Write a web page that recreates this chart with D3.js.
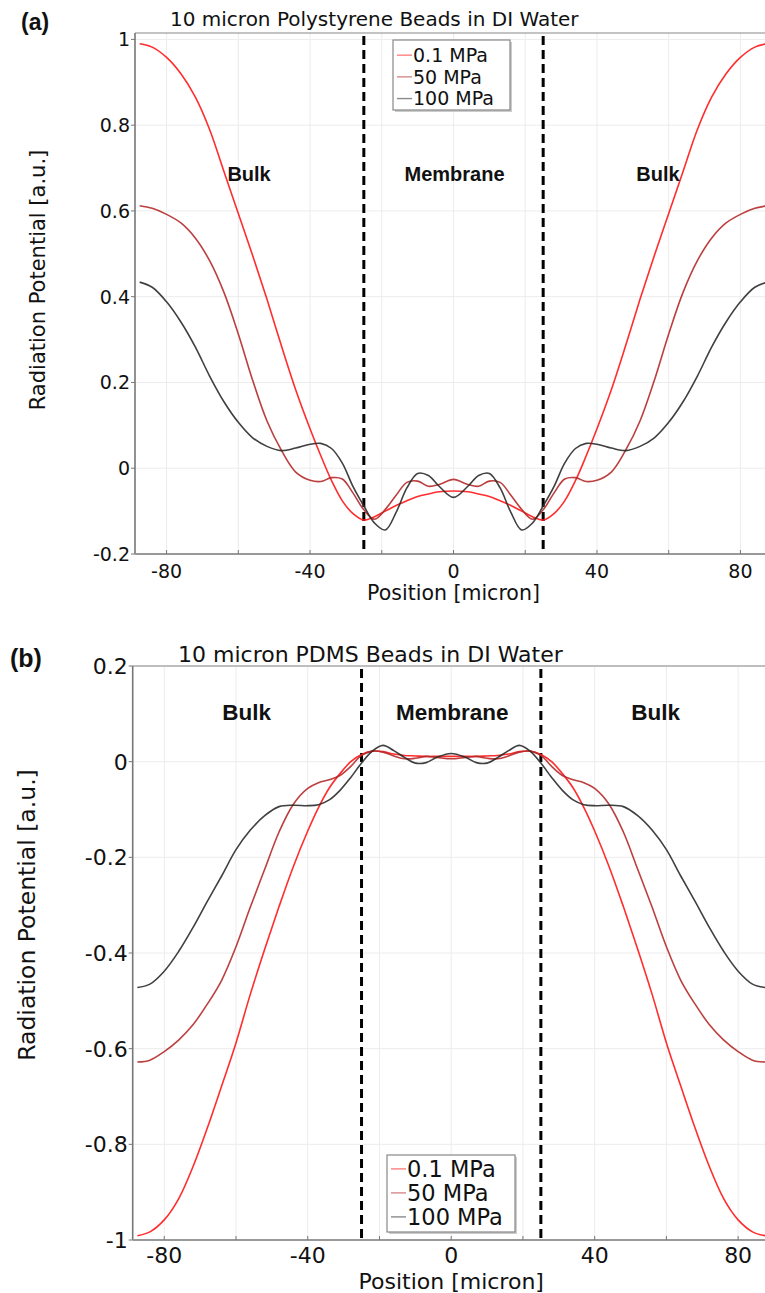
<!DOCTYPE html>
<html>
<head>
<meta charset="utf-8">
<script src="https://cdn.jsdelivr.net/npm/d3@7"></script>
<style>
  body { margin: 0; background: #fff; }
  svg { display: block; }
  text { font-family: "DejaVu Sans", sans-serif; fill: #111; }
  .bold { font-family: "Liberation Sans", Arial, sans-serif; font-weight: bold; }
</style>
</head>
<body>
<svg id="chart" width="765" height="1293"></svg>
<script>
// positions (micron) shared by every series
const positions = [-87.5, -84, -80, -76, -72, -68, -64, -60, -56, -52, -48, -44, -40, -37, -34, -31, -28, -25, -22, -19, -16, -13, -10, -7, -4,
  0, 4, 7, 10, 13, 16, 19, 22, 25, 28, 31, 34, 37, 40, 44, 48, 52, 56, 60, 64, 68, 72, 76, 80, 84, 87.5]

const seriesNames = ['0.1 MPa', '50 MPa', '100 MPa']

// (a) polystyrene
const polyLow = [0.99, 0.982, 0.958, 0.92, 0.866, 0.79, 0.692, 0.594, 0.496, 0.394, 0.286, 0.183, 0.092, 0.029, -0.029, -0.076, -0.106, -0.121, -0.113, -0.1, -0.087, -0.076, -0.066, -0.06, -0.055,
  -0.053, -0.055, -0.06, -0.066, -0.076, -0.087, -0.1, -0.113, -0.121, -0.106, -0.076, -0.029, 0.029, 0.092, 0.183, 0.286, 0.394, 0.496, 0.594, 0.692, 0.79, 0.866, 0.92, 0.958, 0.982, 0.99]
const polyMid = [0.612, 0.606, 0.592, 0.572, 0.537, 0.484, 0.41, 0.313, 0.205, 0.11, 0.042, -0.009, -0.028, -0.031, -0.022, -0.025, -0.058, -0.097, -0.119, -0.096, -0.063, -0.033, -0.03, -0.042, -0.038,
  -0.026, -0.038, -0.042, -0.03, -0.033, -0.063, -0.096, -0.119, -0.097, -0.058, -0.025, -0.022, -0.031, -0.028, -0.009, 0.042, 0.11, 0.205, 0.313, 0.41, 0.484, 0.537, 0.572, 0.592, 0.606, 0.612]
const polyHigh = [0.434, 0.422, 0.388, 0.341, 0.283, 0.215, 0.155, 0.107, 0.071, 0.051, 0.041, 0.047, 0.056, 0.058, 0.046, 0.012, -0.043, -0.088, -0.128, -0.144, -0.103, -0.046, -0.012, -0.017, -0.042,
  -0.068, -0.042, -0.017, -0.012, -0.046, -0.103, -0.144, -0.128, -0.088, -0.043, 0.012, 0.046, 0.058, 0.056, 0.047, 0.041, 0.051, 0.071, 0.107, 0.155, 0.215, 0.283, 0.341, 0.388, 0.422, 0.434]

// (b) PDMS
const pdmsLow = [-0.991, -0.983, -0.958, -0.914, -0.847, -0.766, -0.678, -0.588, -0.486, -0.392, -0.303, -0.219, -0.145, -0.096, -0.055, -0.025, 0.0, 0.015, 0.022, 0.021, 0.016, 0.013, 0.012, 0.011, 0.011,
  0.011, 0.011, 0.011, 0.012, 0.013, 0.016, 0.021, 0.022, 0.015, 0.0, -0.025, -0.055, -0.096, -0.145, -0.219, -0.303, -0.392, -0.486, -0.588, -0.678, -0.766, -0.847, -0.914, -0.958, -0.983, -0.991]
const pdmsMid = [-0.628, -0.624, -0.606, -0.582, -0.55, -0.507, -0.457, -0.387, -0.304, -0.225, -0.147, -0.089, -0.056, -0.044, -0.038, -0.029, -0.01, 0.013, 0.022, 0.02, 0.012, 0.006, 0.007, 0.011, 0.009,
  0.006, 0.009, 0.011, 0.007, 0.006, 0.012, 0.02, 0.022, 0.013, -0.01, -0.029, -0.038, -0.044, -0.056, -0.089, -0.147, -0.225, -0.304, -0.387, -0.457, -0.507, -0.55, -0.582, -0.606, -0.624, -0.628]
const pdmsHigh = [-0.472, -0.465, -0.438, -0.397, -0.347, -0.292, -0.239, -0.184, -0.143, -0.113, -0.094, -0.091, -0.092, -0.09, -0.08, -0.06, -0.033, -0.003, 0.022, 0.034, 0.023, 0.009, -0.003, -0.002, 0.009,
  0.017, 0.009, -0.002, -0.003, 0.009, 0.023, 0.034, 0.022, -0.003, -0.033, -0.06, -0.08, -0.09, -0.092, -0.091, -0.094, -0.113, -0.143, -0.184, -0.239, -0.292, -0.347, -0.397, -0.438, -0.465, -0.472]

const xTickLabels = [-80, -40, 0, 40, 80]
const xGridLines = [-80, -60, -40, -20, 0, 20, 40, 60, 80]
const yTicksA = [-0.2, 0, 0.2, 0.4, 0.6, 0.8, 1]
const yTicksB = [-1, -0.8, -0.6, -0.4, -0.2, 0, 0.2]
const membraneEdges = [-25, 25]
const regions = [{ name: 'Bulk', at: -57 }, { name: 'Membrane', at: 0 }, { name: 'Bulk', at: 57 }]

const colors = ['#ff1616', '#b52a2a', '#2b2b2b']
const svg = d3.select('#chart')
const fmt = d => d3.format('~g')(d).replace('\u2212', '-')

function drawPanel (p) {
  const x = d3.scaleLinear().domain([-88.8, 88.8]).range([p.left, p.left + 637])
  const y = d3.scaleLinear().domain(p.yDomain).range(p.yRange)
  const g = svg.append('g')
  const top = p.frameTop
  const bottom = p.yRange[0]

  // grid
  g.selectAll('.vg').data(xGridLines).enter().append('line')
    .attr('x1', d => x(d)).attr('x2', d => x(d)).attr('y1', top).attr('y2', bottom)
    .attr('stroke', '#ececec').attr('stroke-width', 1)
  g.selectAll('.hg').data(p.yTicks).enter().append('line')
    .attr('x1', p.left).attr('x2', 765).attr('y1', d => y(d)).attr('y2', d => y(d))
    .attr('stroke', '#ececec').attr('stroke-width', 1)

  // frame
  g.append('line').attr('x1', p.left).attr('x2', 765).attr('y1', top).attr('y2', top)
    .attr('stroke', '#888').attr('stroke-width', 1.2)
  g.append('line').attr('x1', p.left).attr('x2', p.left).attr('y1', top).attr('y2', bottom)
    .attr('stroke', '#777').attr('stroke-width', 1.6)
  g.append('line').attr('x1', p.left).attr('x2', 765).attr('y1', bottom).attr('y2', bottom)
    .attr('stroke', '#999').attr('stroke-width', 2.2)

  // ticks
  g.selectAll('.yt').data(p.yTicks).enter().append('line')
    .attr('x1', p.left - 4).attr('x2', p.left).attr('y1', d => y(d)).attr('y2', d => y(d))
    .attr('stroke', '#777')
  g.selectAll('.xt').data(xGridLines).enter().append('line')
    .attr('x1', d => x(d)).attr('x2', d => x(d)).attr('y1', bottom - 4).attr('y2', bottom)
    .attr('stroke', '#777')

  g.selectAll('.yl').data(p.yTicks).enter().append('text')
    .attr('x', p.left - 5).attr('y', d => y(d)).attr('dy', '0.36em')
    .attr('text-anchor', 'end').style('font-size', p.tickSize + 'px')
    .text(fmt)
  g.selectAll('.xl').data(xTickLabels).enter().append('text')
    .attr('x', d => x(d)).attr('y', p.xLabelY)
    .attr('text-anchor', 'middle').style('font-size', p.tickSize + 'px')
    .text(fmt)

  // membrane edges
  g.selectAll('.edge').data(membraneEdges).enter().append('line')
    .attr('x1', d => x(d)).attr('x2', d => x(d)).attr('y1', top + 3).attr('y2', bottom)
    .attr('stroke', '#000').attr('stroke-width', 3).attr('stroke-dasharray', '9,5')

  // curves
  const line = d3.line().curve(d3.curveCatmullRom.alpha(0.5))
    .x(d => x(d[0])).y(d => y(d[1]))
  p.series.forEach((vals, i) => {
    g.append('path').datum(positions.map((px, j) => [px, vals[j]]))
      .attr('d', line).attr('fill', 'none')
      .attr('stroke', colors[i]).attr('stroke-width', 1.6)
      .attr('stroke-opacity', 0.9)
  })

  // region labels
  g.selectAll('.reg').data(regions).enter().append('text')
    .attr('class', 'bold').attr('x', d => x(d.at) + (d.name === 'Membrane' ? 1 : 0)).attr('y', p.regionY)
    .attr('text-anchor', 'middle').style('font-size', p.regionSize + 'px')
    .text(d => d.name)

  // titles
  g.append('text').attr('x', p.titleX).attr('y', p.titleY)
    .style('font-size', p.titleSize + 'px').text(p.title)
  g.append('text').attr('class', 'bold').attr('x', p.tagX).attr('y', p.tagY)
    .style('font-size', p.tagSize + 'px').text(p.tag)
  g.append('text').attr('x', x(0)).attr('y', p.axisTitleY)
    .attr('text-anchor', 'middle').style('font-size', p.axisSize + 'px')
    .text('Position [micron]')
  g.append('text').attr('transform', `translate(${p.yTitleX},${p.yTitleY}) rotate(-90)`)
    .attr('text-anchor', 'middle').style('font-size', p.yTitleSize + 'px')
    .text('Radiation Potential [a.u.]')

  // legend
  const lg = g.append('g').attr('transform', `translate(${p.legend.x},${p.legend.y})`)
  lg.append('rect').attr('x', 2).attr('y', 2).attr('width', p.legend.w).attr('height', p.legend.h)
    .attr('fill', '#ccc')
  lg.append('rect').attr('width', p.legend.w).attr('height', p.legend.h)
    .attr('fill', '#fff').attr('stroke', '#888').attr('stroke-width', 1.2)
  seriesNames.forEach((name, i) => {
    const by = p.legend.row0 + i * p.legend.step
    lg.append('line').attr('x1', 4).attr('x2', 19).attr('y1', by - p.legend.size * 0.36).attr('y2', by - p.legend.size * 0.36)
      .attr('stroke', colors[i]).attr('stroke-opacity', 0.55).attr('stroke-width', 1.4)
    lg.append('text').attr('x', 20).attr('y', by).style('font-size', p.legend.size + 'px').text(name)
  })
}

drawPanel({
  left: 135, frameTop: 33, yDomain: [-0.2, 1], yRange: [554, 39.4], yTicks: yTicksA,
  series: [polyLow, polyMid, polyHigh], tickSize: 19, xLabelY: 578, regionY: 181, regionSize: 20,
  title: '10 micron Polystyrene Beads in DI Water', titleX: 170, titleY: 26, titleSize: 20,
  tag: '(a)', tagX: 21, tagY: 30, tagSize: 23, axisTitleY: 600, axisSize: 20.5,
  yTitleX: 45, yTitleY: 280, yTitleSize: 21,
  legend: { x: 393, y: 40, w: 117, h: 70, row0: 22, step: 21.7, size: 19 }
})

drawPanel({
  left: 132.7, frameTop: 666, yDomain: [-1, 0.2], yRange: [1240, 666], yTicks: yTicksB,
  series: [pdmsLow, pdmsMid, pdmsHigh], tickSize: 22, xLabelY: 1263, regionY: 720, regionSize: 22.5,
  title: '10 micron PDMS Beads in DI Water', titleX: 178, titleY: 662, titleSize: 22,
  tag: '(b)', tagX: 10, tagY: 667, tagSize: 25, axisTitleY: 1289, axisSize: 22,
  yTitleX: 35, yTitleY: 915, yTitleSize: 23.5,
  legend: { x: 387, y: 1155, w: 128, h: 77, row0: 22, step: 24, size: 22.5 }
})
</script>
</body>
</html>
